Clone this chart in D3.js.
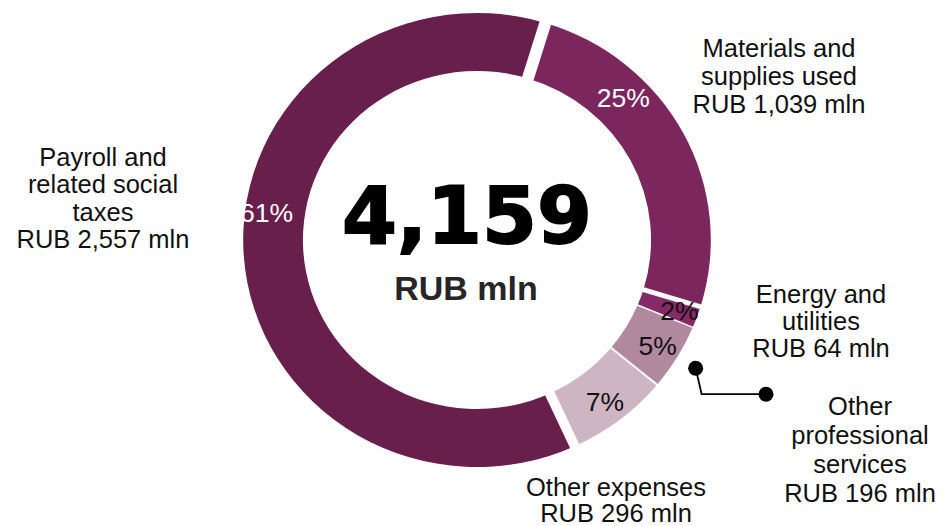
<!DOCTYPE html>
<html>
<head>
<meta charset="utf-8">
<script src="https://cdn.jsdelivr.net/npm/d3@7"></script>
<style>
  html, body { margin: 0; padding: 0; background: #fff; }
  svg { display: block; }
  text { font-family: "Liberation Sans", Arial, Helvetica, sans-serif; }
</style>
</head>
<body>
<svg id="chart" width="946" height="526"></svg>
<script>
// Operating expenses breakdown, RUB mln
const categories = ["Materials", "Energy", "Professional", "Other", "Payroll"];
const values = [1039, 64, 196, 296, 2557];
const totalLabel = 4159;
const labelLines = [
  ["Materials and", "supplies used", "RUB 1,039 mln"],
  ["Energy and", "utilities", "RUB 64 mln"],
  ["Other", "professional", "services", "RUB 196 mln"],
  ["Other expenses", "RUB 296 mln"],
  ["Payroll and", "related social", "taxes", "RUB 2,557 mln"]
];
const colors = ["#7b265c", "#862a67", "#b1899f", "#cdb5c4", "#681f4b"];

const svg = d3.select("#chart");
const cx = 477, cy = 240, sx = 1.03;
const rOuter = 227, rInner = 169;
const deg = Math.PI / 180;
const start = 17 * deg;

const pie = d3.pie().sort(null).value(d => d).startAngle(start).endAngle(start + 2 * Math.PI);
const arcs = pie(values);
const arc = d3.arc().innerRadius(rInner).outerRadius(rOuter);

// Ring, slightly wider than tall
const ring = svg.append("g").attr("transform", `translate(${cx},${cy}) scale(${sx},1)`);
ring.selectAll("path.slice")
  .data(arcs)
  .join("path")
  .attr("class", "slice")
  .attr("d", arc)
  .attr("fill", (d, i) => colors[i]);

// White separators between slices (width per boundary, after each slice)
const gapWidths = [5, 1.5, 2, 10, 12];
ring.selectAll("line.sep")
  .data(arcs)
  .join("line")
  .attr("class", "sep")
  .attr("x1", d => Math.sin(d.endAngle) * (rInner - 6))
  .attr("y1", d => -Math.cos(d.endAngle) * (rInner - 6))
  .attr("x2", d => Math.sin(d.endAngle) * (rOuter + 6))
  .attr("y2", d => -Math.cos(d.endAngle) * (rOuter + 6))
  .attr("stroke", "#fff")
  .attr("stroke-width", (d, i) => gapWidths[i] / sx);

// Helpers to map polar to screen coords
const px = (a, r) => cx + sx * r * Math.sin(a);
const py = (a, r) => cy - r * Math.cos(a);

// Percent labels
const pctAngle = [45 * deg, null, null, null, 277.5 * deg];
const pctColor = ["#fff", "#111", "#111", "#111", "#fff"];
const pctR = [201, 209, 205, 204, 206];
svg.selectAll("text.pct")
  .data(arcs)
  .join("text")
  .attr("class", "pct")
  .each(function (d, i) {
    const a = pctAngle[i] != null ? pctAngle[i] : (d.startAngle + d.endAngle) / 2;
    d3.select(this)
      .attr("x", px(a, pctR[i]))
      .attr("y", py(a, pctR[i]))
      .attr("dy", "0.35em");
  })
  .attr("text-anchor", "middle")
  .attr("font-size", 26.5)
  .attr("fill", (d, i) => pctColor[i])
  .text(d => Math.round(d.data / totalLabel * 100) + "%");

// Centre total
svg.append("text")
  .attr("x", 467).attr("y", 243)
  .attr("text-anchor", "middle")
  .style("font-family", "'DejaVu Sans', sans-serif")
  .attr("font-weight", "bold")
  .attr("font-size", 79)
  .attr("fill", "#000")
  .attr("stroke", "#000")
  .attr("stroke-width", 1.8)
  .text(d3.format(",")(totalLabel));

svg.append("text")
  .attr("x", 466).attr("y", 300)
  .attr("text-anchor", "middle")
  .attr("font-weight", "bold")
  .attr("font-size", 34)
  .attr("fill", "#262626")
  .text("RUB mln");

// Category labels
const labelPos = [
  { x: 779, y: 57, lh: 28 },
  { x: 821, y: 303, lh: 27 },
  { x: 860, y: 415, lh: 29 },
  { x: 616, y: 496, lh: 26 },
  { x: 103, y: 166, lh: 27.3 }
];
labelLines.forEach((lines, i) => {
  const t = svg.append("text")
    .attr("text-anchor", "middle")
    .attr("font-size", 25.5)
    .attr("fill", "#111");
  lines.forEach((s, j) => {
    t.append("tspan")
      .attr("x", labelPos[i].x)
      .attr("y", labelPos[i].y + j * labelPos[i].lh)
      .text(s);
  });
});

// Leader for the professional services slice
const pro = arcs[2];
const aPro = (pro.startAngle + pro.endAngle) / 2;
const p0 = [px(aPro, 248), py(aPro, 248)];
const p1 = [p0[0] + 6, p0[1] + 26];
const p2 = [766, p0[1] + 26];
svg.append("path")
  .attr("d", d3.line()([p0, p1, p2]))
  .attr("fill", "none")
  .attr("stroke", "#000")
  .attr("stroke-width", 1.8);
svg.selectAll("circle.dot")
  .data([p0, p2])
  .join("circle")
  .attr("class", "dot")
  .attr("cx", d => d[0])
  .attr("cy", d => d[1])
  .attr("r", 7.5)
  .attr("fill", "#000");
</script>
</body>
</html>
